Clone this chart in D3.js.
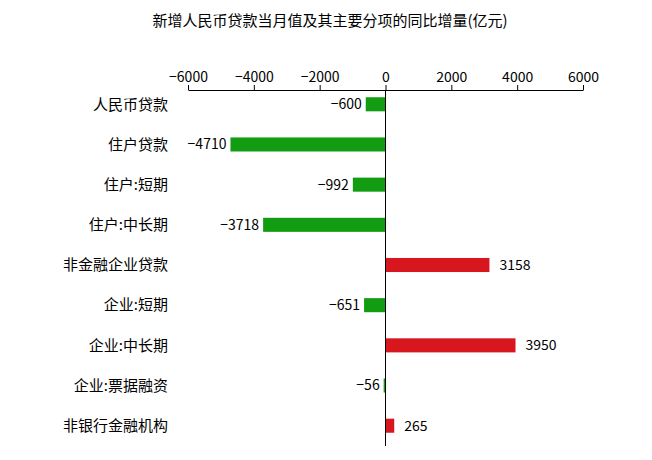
<!DOCTYPE html>
<html><head><meta charset="utf-8">
<script src="https://cdn.jsdelivr.net/npm/d3@7/dist/d3.min.js"></script>
<style>body{margin:0;background:#fff}</style>
</head><body>
<svg id="chart" width="652" height="460"></svg>
<script>
const categories = ['人民币贷款', '住户贷款', '住户:短期', '住户:中长期', '非金融企业贷款', '企业:短期', '企业:中长期', '企业:票据融资', '非银行金融机构'];
const values = [-600, -4710, -992, -3718, 3158, -651, 3950, -56, 265];
const ticks = [-6000, -4000, -2000, 0, 2000, 4000, 6000];

const svg = d3.select('#chart');
const font = '"Noto Sans CJK SC", sans-serif';

const x = d3.scaleLinear().domain([-6000, 6000]).range([188, 583]);
const y = d3.scaleBand().domain(categories).range([84, 446]).paddingInner(0.65).paddingOuter(0.33);

svg.append('text')
  .attr('x', 330).attr('y', 26)
  .attr('text-anchor', 'middle')
  .attr('font-family', font).attr('font-size', 15)
  .text('新增人民币贷款当月值及其主要分项的同比增量(亿元)');

const axis = svg.append('g').attr('transform', 'translate(0,90)')
  .call(d3.axisTop(x).tickValues(ticks).tickSize(5).tickSizeOuter(0).tickFormat(d => d === 0 ? '0' : String(d).replace('-', '−')));
axis.select('.domain').attr('stroke', '#000');
axis.selectAll('text').attr('font-family', font).attr('font-size', 14).attr('fill', '#000');

svg.selectAll('rect.bar').data(values).enter().append('rect')
  .attr('class', 'bar')
  .attr('x', d => x(Math.min(0, d)))
  .attr('y', (d, i) => y(categories[i]))
  .attr('width', d => Math.abs(x(d) - x(0)))
  .attr('height', y.bandwidth())
  .attr('fill', d => d < 0 ? '#129c12' : '#d8161e');

svg.append('line')
  .attr('x1', x(0)).attr('x2', x(0)).attr('y1', 90).attr('y2', 446)
  .attr('stroke', '#000');

svg.selectAll('text.cat').data(categories).enter().append('text')
  .attr('class', 'cat')
  .attr('x', 168)
  .attr('y', d => y(d) + y.bandwidth() / 2)
  .attr('dy', '0.35em')
  .attr('text-anchor', 'end')
  .attr('font-family', font).attr('font-size', 15)
  .text(d => d);

svg.selectAll('text.val').data(values).enter().append('text')
  .attr('class', 'val')
  .attr('x', d => d < 0 ? x(d) - 4 : x(d) + 10)
  .attr('y', (d, i) => y(categories[i]) + y.bandwidth() / 2)
  .attr('dy', '0.35em')
  .attr('text-anchor', d => d < 0 ? 'end' : 'start')
  .attr('font-family', font).attr('font-size', 14)
  .text(d => String(d).replace('-', '−'));
</script>
</body></html>
